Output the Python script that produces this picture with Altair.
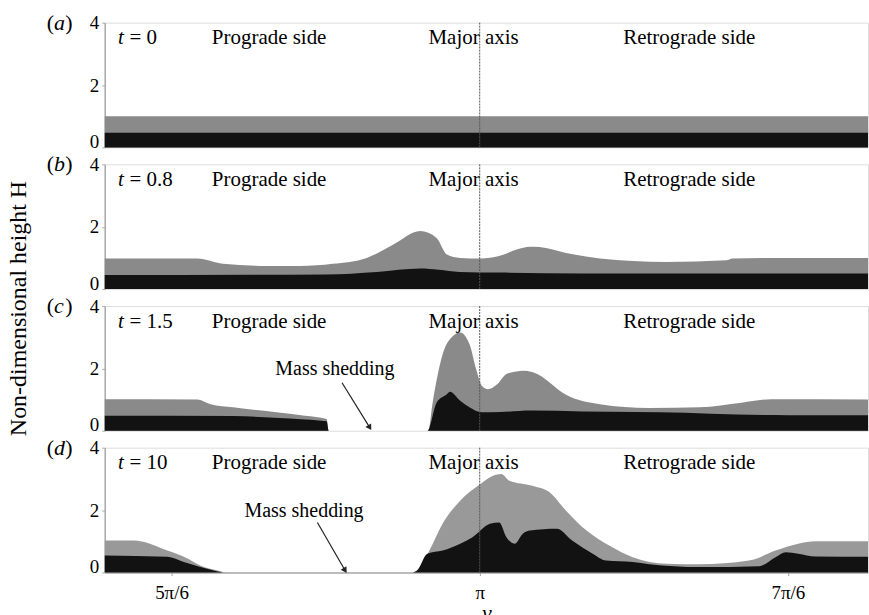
import altair as alt
import pandas as pd

FONT = "Liberation Serif"
GRAY = "#8a8a8a"
BLACK = "#121212"

# x positions are the azimuth nu in degrees (150 = 5pi/6, 180 = pi, 210 = 7pi/6)
X_DOMAIN = [143.5, 217.8]
tick_values = [150, 180, 210]
tick_labels = ["5π/6", "π", "7π/6"]

panel_tags = ["a", "b", "c", "d"]
panel_times = ["= 0", "= 0.8", "= 1.5", "= 10"]

# panel (a)
a_gray_nu = [143.5, 217.8]
a_gray_h = [1.0, 1.0]
a_black_nu = [143.5, 217.8]
a_black_h = [0.47, 0.47]

# panel (b)
b_gray_nu = [143.5, 152.5, 155.0, 159.3, 162.5, 165.7, 169.0, 171.6, 174.2, 175.8, 176.8,
             178.1, 180.1, 181.9, 183.6, 184.9, 185.8, 188.4, 191.7, 194.9, 198.2, 204.0,
             204.6, 207.9, 217.8]
b_gray_h = [0.98, 0.98, 0.81, 0.74, 0.74, 0.81, 1.0, 1.43, 1.86, 1.64, 1.11,
            1.0, 0.98, 1.06, 1.27, 1.36, 1.35, 1.16, 0.98, 0.9, 0.87, 0.92,
            0.98, 1.0, 1.0]
b_black_nu = [143.5, 165.0, 170.0, 174.2, 176.0, 178.0, 182.0, 190.0, 217.8]
b_black_h = [0.45, 0.47, 0.55, 0.66, 0.62, 0.55, 0.53, 0.5, 0.5]

# panel (c)
c_gray_nu = [143.5, 152.5, 153.8, 156.0, 160.0, 163.0, 165.1, 165.3, 175.0, 175.4, 176.4,
             177.4, 178.1, 179.0, 179.7, 180.2, 180.8, 181.7, 182.6, 183.6, 184.2, 185.1,
             186.0, 186.8, 188.4, 190.0, 191.7, 196.5, 201.4, 205.5, 208.4, 217.8]
c_gray_h = [1.01, 1.0, 0.85, 0.75, 0.6, 0.48, 0.38, 0.0, 0.0, 0.86, 2.46,
            3.04, 3.15, 2.78, 1.92, 1.44, 1.33, 1.49, 1.82, 1.9, 1.92, 1.88,
            1.75, 1.55, 1.15, 0.95, 0.85, 0.73, 0.75, 0.9, 1.01, 1.0]
c_black_nu = [143.5, 156.0, 160.0, 163.0, 165.1, 165.3, 174.9, 175.8, 176.8, 177.1, 178.1,
              179.0, 180.2, 182.0, 185.0, 190.0, 200.0, 205.0, 210.0, 217.8]
c_black_h = [0.48, 0.47, 0.42, 0.36, 0.3, 0.0, 0.0, 0.9, 1.17, 1.25, 0.96,
             0.75, 0.59, 0.6, 0.65, 0.62, 0.58, 0.52, 0.5, 0.5]

# panel (d)
d_gray_nu = [143.5, 146.3, 149.6, 151.6, 152.8, 154.5, 155.4, 173.5, 174.2, 175.1, 176.4,
             178.1, 180.1, 181.3, 182.1, 182.9, 185.1, 186.8, 188.4, 190.4, 192.6, 194.9,
             198.2, 201.4, 206.2, 208.8, 211.0, 212.7, 217.8]
d_gray_h = [1.02, 1.02, 0.7, 0.44, 0.22, 0.06, 0.0, 0.0, 0.17, 0.7, 1.57,
            2.3, 2.84, 3.1, 3.16, 2.94, 2.78, 2.57, 1.98, 1.34, 0.86, 0.49,
            0.28, 0.26, 0.38, 0.7, 0.92, 1.0, 1.0]
d_black_nu = [143.5, 149.6, 151.2, 152.8, 154.5, 155.0, 173.5, 173.9, 174.9, 176.4, 178.1,
              179.3, 181.0, 181.9, 182.6, 183.4, 184.2, 184.9, 187.5, 189.0, 191.0, 192.3,
              194.9, 196.5, 201.4, 207.2, 208.8, 209.8, 211.0, 212.7, 217.8]
d_black_h = [0.54, 0.5, 0.33, 0.17, 0.03, 0.0, 0.0, 0.06, 0.6, 0.7, 0.92,
             1.13, 1.56, 1.6, 1.13, 0.92, 1.24, 1.34, 1.4, 1.02, 0.6, 0.38,
             0.33, 0.26, 0.17, 0.2, 0.49, 0.65, 0.6, 0.51, 0.5]

# annotation anchor positions (data units)
label_nu = [159.5, 179.4, 200.4]
label_text = ["Prograde side", "Major axis", "Retrograde side"]
shed_text_nu = [165.9, 162.9]
shed_text_h = [1.98, 1.98]
shed_arrow_nu = [166.6, 164.2]
shed_arrow_h = [1.54, 1.6]
shed_arrow_nu2 = [169.3, 166.9]
shed_arrow_h2 = [0.1, 0.06]

x_scale = alt.Scale(domain=X_DOMAIN, nice=False, zero=False)
y_scale = alt.Scale(domain=[0, 4], nice=False)

panels_data = [
    (a_gray_nu, a_gray_h, a_black_nu, a_black_h),
    (b_gray_nu, b_gray_h, b_black_nu, b_black_h),
    (c_gray_nu, c_gray_h, c_black_nu, c_black_h),
    (d_gray_nu, d_gray_h, d_black_nu, d_black_h),
]


def txt(nu, h, t, size=21, style="normal", align="center", color="black"):
    return alt.Chart(pd.DataFrame({"nu": [nu], "h": [h], "t": [t]})).mark_text(
        font=FONT, fontSize=size, fontStyle=style, color=color, baseline="middle",
        align=align).encode(x=alt.X("nu:Q", scale=x_scale), y=alt.Y("h:Q", scale=y_scale),
                            text="t:N")


def make_panel(i):
    gnu, gh, bnu, bh = panels_data[i]
    last = i == 3
    if last:
        x_axis = alt.Axis(values=tick_values,
                          labelExpr="datum.value == 150 ? '5π/6' : datum.value == 180 ? 'π' : '7π/6'",
                          title="ν", titleFont=FONT, titleFontSize=22, titleFontStyle="italic",
                          titleFontWeight="normal", titlePadding=0,
                          labelFont=FONT, labelFontSize=19, labelPadding=8, labelColor="black",
                          domainColor="#aaaaaa", domainWidth=1.5, tickColor="#999999", tickSize=3,
                          grid=False)
    else:
        x_axis = None
    common = dict(values=[0, 2, 4], grid=False, labelFont=FONT, labelFontSize=19,
                  labelColor="black", labelPadding=3, tickSize=3, tickColor="#aaaaaa",
                  domainColor="#aaaaaa", domainWidth=1.5,
                  labelBaseline={"condition": {"test": "datum.value == 0", "value": "alphabetic"},
                                 "value": "middle"})
    if i == 1:
        y_axis = alt.Axis(title="Non-dimensional height H", titleFont=FONT, titleFontSize=24,
                          titleFontWeight="normal", titleX=-86, titleY=144, titleAngle=270,
                          titleAlign="center", titleBaseline="middle", titleColor="black",
                          **common)
    else:
        y_axis = alt.Axis(title=None, **common)

    gdf = pd.DataFrame({"nu": gnu, "h": gh})
    bdf = pd.DataFrame({"nu": bnu, "h": bh})
    gray = alt.Chart(gdf).mark_area(color=GRAY if i < 3 else "#999999", interpolate="monotone",
                                    opacity=1).encode(
        x=alt.X("nu:Q", scale=x_scale, axis=x_axis),
        y=alt.Y("h:Q", scale=y_scale, axis=y_axis),
    )
    black = alt.Chart(bdf).mark_area(color=BLACK, interpolate="monotone", opacity=1).encode(
        x=alt.X("nu:Q", scale=x_scale),
        y=alt.Y("h:Q", scale=y_scale),
    )
    vline = alt.Chart(pd.DataFrame({"nu": [180.0]})).mark_rule(
        color="#555555", strokeWidth=1, strokeDash=[2, 1]).encode(
        x=alt.X("nu:Q", scale=x_scale))

    lab = alt.Chart(pd.DataFrame({"nu": label_nu, "h": [3.5] * 3, "t": label_text})).mark_text(
        font=FONT, fontSize=21, color="black", baseline="middle", align="center").encode(
        x=alt.X("nu:Q", scale=x_scale), y=alt.Y("h:Q", scale=y_scale), text="t:N")

    layers = [gray, black, vline, lab,
              txt(144.8, 3.5, "t", style="italic", align="left"),
              txt(145.9, 3.5, panel_times[i], align="left"),
              txt(137.86, 4.0, "(", size=22, align="left"),
              txt(138.55, 4.0, panel_tags[i], size=22, style="italic", align="left"),
              txt(139.65, 4.0, ")", size=22, align="left")]

    if i >= 2:
        k = i - 2
        ar = alt.Chart(pd.DataFrame({"nu": [shed_arrow_nu[k]], "h": [shed_arrow_h[k]],
                                     "nu2": [shed_arrow_nu2[k]], "h2": [shed_arrow_h2[k]]})).mark_rule(
            color="#222222", strokeWidth=1.2).encode(
            x=alt.X("nu:Q", scale=x_scale), y=alt.Y("h:Q", scale=y_scale),
            x2="nu2:Q", y2="h2:Q")
        head = alt.Chart(pd.DataFrame({"nu": [shed_arrow_nu2[k]], "h": [shed_arrow_h2[k]]})).mark_point(
            shape="triangle-down", filled=True, color="#222222", size=45, angle=328, opacity=1).encode(
            x=alt.X("nu:Q", scale=x_scale), y=alt.Y("h:Q", scale=y_scale))
        layers += [txt(shed_text_nu[k], shed_text_h[k], "Mass shedding", size=20), ar, head]

    return alt.layer(*layers).properties(width=765, height=125)


chart = alt.vconcat(*[make_panel(i) for i in range(4)], spacing=17, bounds="flush").properties(
    padding={"left": 6, "top": 10, "right": 0, "bottom": 0}
).configure_view(stroke="#aaaaaa", strokeWidth=1.5).configure(font=FONT)

chart.save("out.html", embed_options={"renderer": "svg", "actions": False})
